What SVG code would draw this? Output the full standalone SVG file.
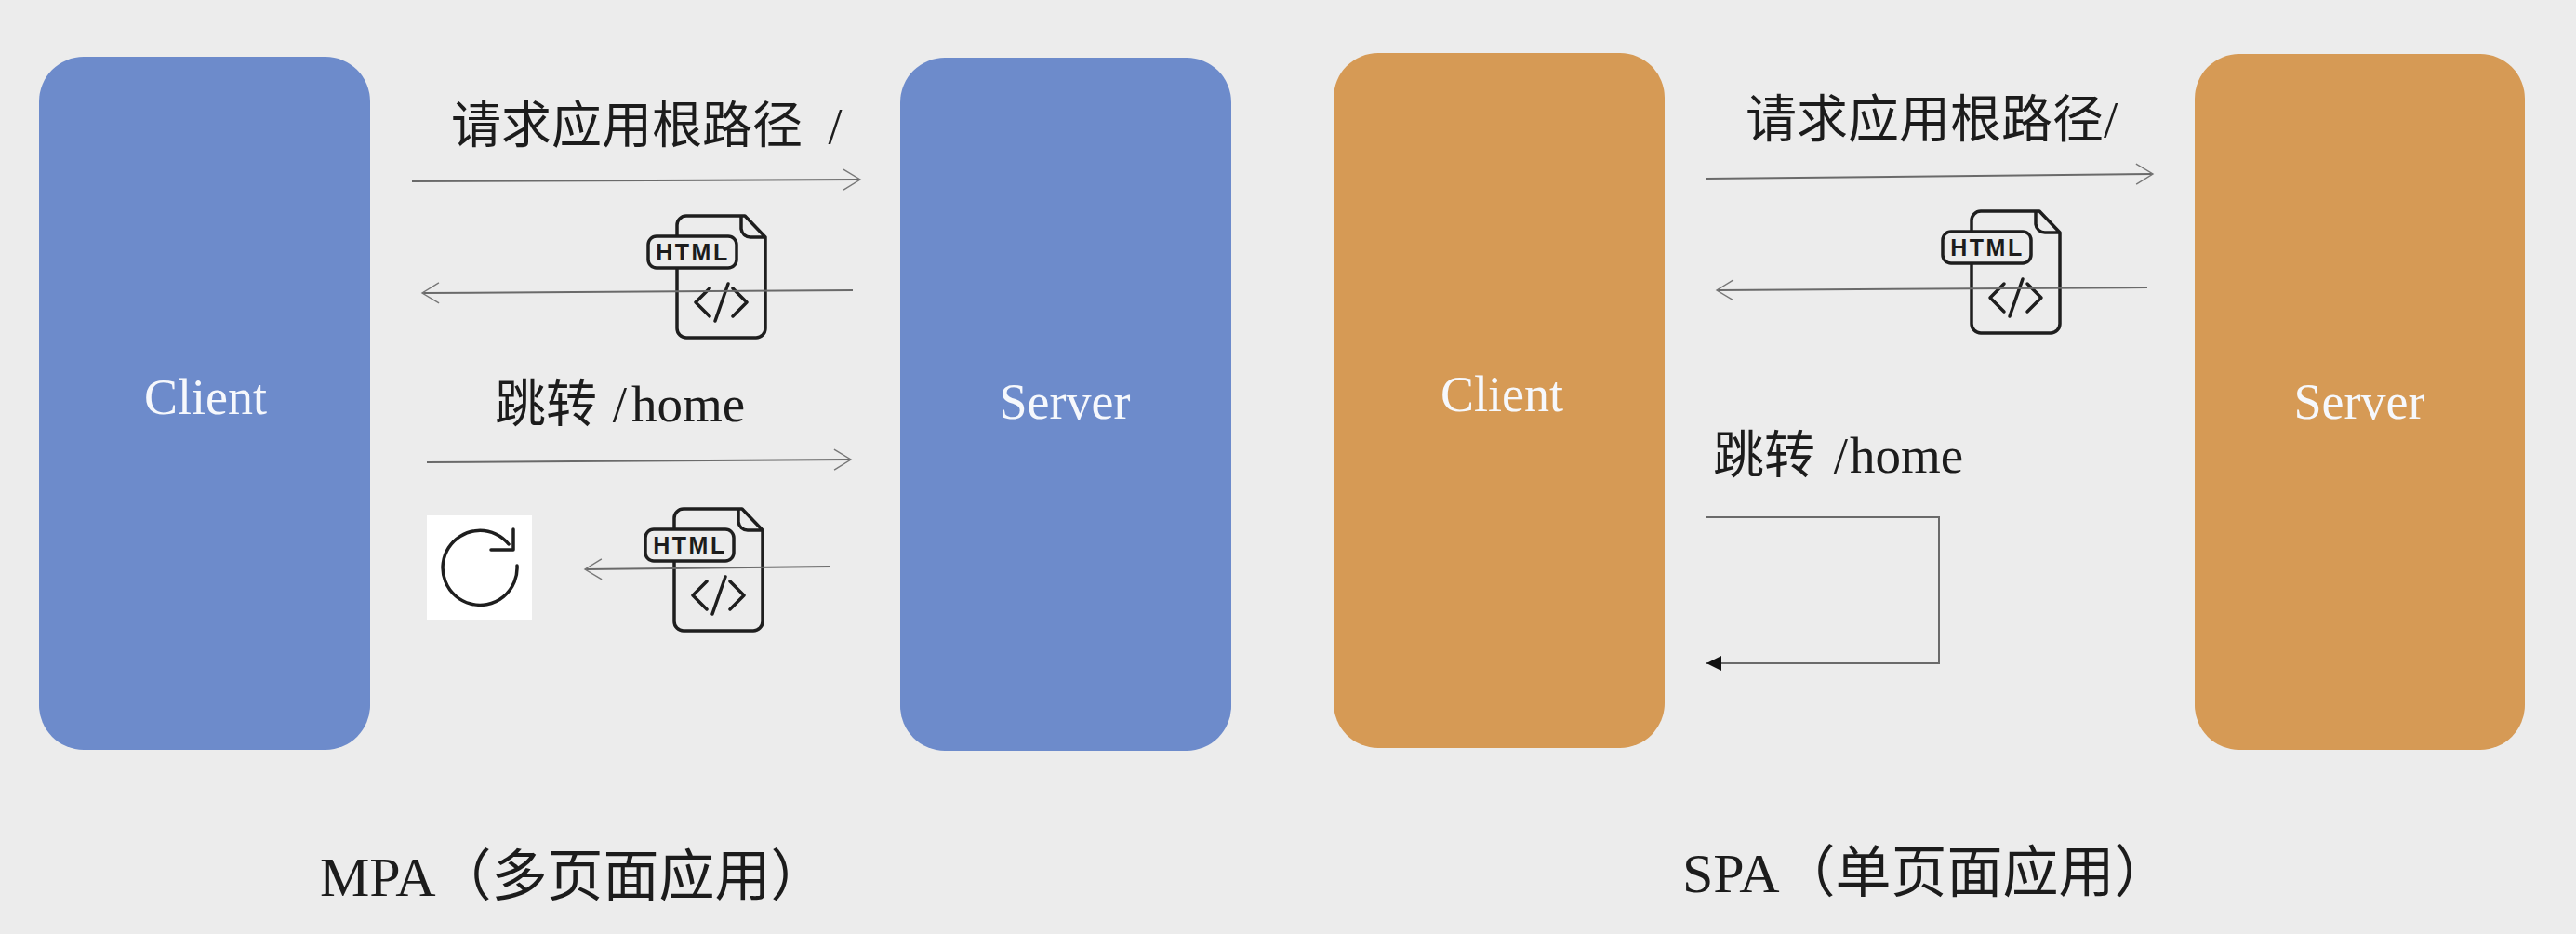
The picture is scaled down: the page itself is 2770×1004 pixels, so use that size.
<svg xmlns="http://www.w3.org/2000/svg" width="2770" height="1004" viewBox="0 0 2770 1004">
<style>
text{font-family:"Liberation Serif","Noto Sans CJK SC",serif;fill:#1c1c1c;font-size:55px}
.lbl{fill:#f6f8fc;text-anchor:middle;font-size:54px}
.cap{font-size:60px}
.blue{fill:#6d8bcb}
.orange{fill:#d69a55}
.conn{fill:none;stroke:#6a6a6a;stroke-width:2}
.ico{fill:none;stroke:#1e1e1e;stroke-width:3.5;stroke-linejoin:round;stroke-linecap:round}
.ht{font-family:"Liberation Sans",sans-serif;font-size:25px;font-weight:700;text-anchor:middle;letter-spacing:2.5px}
</style>
<defs>
<marker id="open" markerUnits="userSpaceOnUse" markerWidth="22" markerHeight="26" refX="19" refY="12" orient="auto"><path d="M1 1L19 12L1 23" fill="none" stroke="#777" stroke-width="1.4"/></marker>
<marker id="solid" markerUnits="userSpaceOnUse" markerWidth="18" markerHeight="18" refX="16" refY="9" orient="auto"><path d="M0 1L16 9L0 17Z" fill="#111"/></marker>
<g id="doc">
<path class="ico" d="M32 10a10 10 0 0 1 10-10H105L127 23V121a10 10 0 0 1-10 10H42a10 10 0 0 1-10-10ZM101 0V14a10 10 0 0 0 10 9H127"/>
<rect x="1" y="22" width="95" height="34" rx="9" fill="#ececec" stroke="#1e1e1e" stroke-width="3.5"/>
<path class="ico" d="M67 78L52 93L67 108M92 78L107 93L92 108M87 73L73 113"/>
</g>
</defs>
<rect width="2770" height="1004" fill="#ececec"/>

<g id="client-mpa"><rect class="blue" x="42" y="61" width="356" height="745" rx="48"/><text class="lbl" x="221" y="445">Client</text></g>
<g id="server-mpa"><rect class="blue" x="968" y="62" width="356" height="745" rx="48"/><text class="lbl" x="1145" y="450">Server</text></g>
<g id="client-spa"><rect class="orange" x="1434" y="57" width="356" height="747" rx="48"/><text class="lbl" x="1615" y="442">Client</text></g>
<g id="server-spa"><rect class="orange" x="2360" y="58" width="355" height="748" rx="48"/><text class="lbl" x="2537" y="450">Server</text></g>

<g id="html-mpa-1"><use href="#doc" transform="translate(696,232)"/><text class="ht" x="745" y="280">HTML</text></g>
<g id="html-mpa-2"><use href="#doc" transform="translate(693,547)"/><text class="ht" x="742" y="595">HTML</text></g>
<g id="html-spa"><use href="#doc" transform="translate(2088,227)"/><text class="ht" x="2137" y="275">HTML</text></g>
<g id="refresh"><rect x="459" y="554" width="113" height="112" fill="#fff"/><path class="ico" d="M556 608A40 40 0 1 1 547 585M552 569V591H528"/></g>

<g id="connectors">
<path class="conn" marker-end="url(#open)" d="M443 195L925 193"/>
<path class="conn" marker-end="url(#open)" d="M917 312L454 315"/>
<path class="conn" marker-end="url(#open)" d="M459 497L915 494"/>
<path class="conn" marker-end="url(#open)" d="M893 609L629 612"/>
<path class="conn" marker-end="url(#open)" d="M1834 192L2315 187"/>
<path class="conn" marker-end="url(#open)" d="M2309 309L1846 312"/>
<path class="conn" marker-end="url(#solid)" d="M1834 556H2085V713H1835"/>
</g>

<g id="labels">
<text x="485" y="154" style="font-size:54px" word-spacing="14">请求应用根路径 /</text>
<text x="532" y="453" word-spacing="3">跳转 /<tspan dx="5">home</tspan></text>
<text x="1877" y="147">请求应用根路径/</text>
<text x="1842" y="508" word-spacing="6">跳转 /<tspan dx="2">home</tspan></text>
<text class="cap" x="344" y="963">MPA（多页面应用）</text>
<text class="cap" x="1809" y="959">SPA（单页面应用）</text>
</g>
</svg>
